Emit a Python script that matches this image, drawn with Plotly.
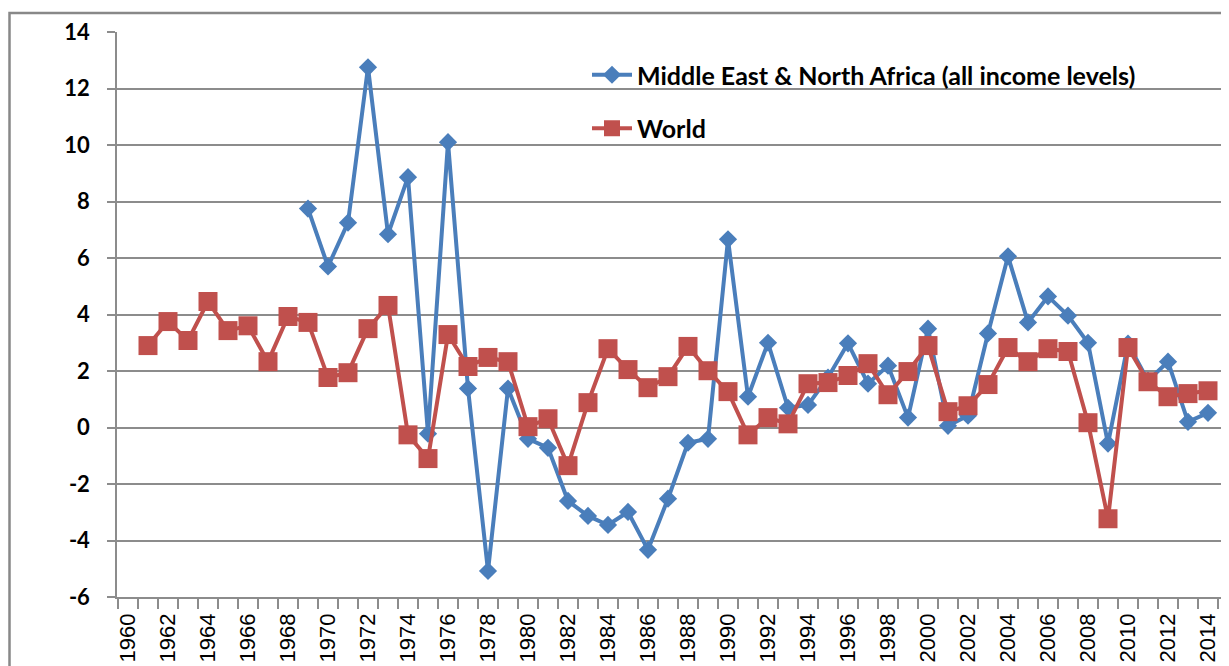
import plotly.graph_objects as go

mena_years = list(range(1969, 2015))
mena_values = [7.75, 5.7, 7.25, 12.75, 6.84, 8.86, -0.22, 10.1, 1.38, -5.08,
               1.38, -0.4, -0.72, -2.6, -3.13, -3.45, -2.99, -4.33, -2.52, -0.54,
               -0.4, 6.66, 1.09, 3.0, 0.7, 0.8, 1.77, 2.98, 1.55, 2.19,
               0.35, 3.5, 0.06, 0.42, 3.33, 6.06, 3.72, 4.64, 3.96, 3.0,
               -0.57, 2.97, 1.66, 2.33, 0.2, 0.52]

world_years = list(range(1961, 2015))
world_values = [2.9, 3.75, 3.08, 4.46, 3.43, 3.6, 2.33, 3.93, 3.72, 1.77,
                1.94, 3.5, 4.32, -0.26, -1.1, 3.29, 2.16, 2.48, 2.33, 0.03,
                0.31, -1.35, 0.88, 2.79, 2.05, 1.41, 1.8, 2.87, 2.01, 1.27,
                -0.26, 0.35, 0.13, 1.55, 1.59, 1.84, 2.26, 1.16, 1.98, 2.9,
                0.56, 0.77, 1.52, 2.83, 2.33, 2.79, 2.69, 0.17, -3.23, 2.83,
                1.62, 1.09, 1.2, 1.3]

x_tick_years = list(range(1960, 2015, 2))
x_tick_labels = [str(y) for y in x_tick_years]
y_ticks = list(range(-6, 15, 2))
y_tick_labels = [str(v) for v in y_ticks]  # plain hyphen minus like the source

BLUE = "#4A7EBB"
RED = "#C0504D"
GRID = "#8C8C8C"

OFF = 8  # page body margin
W, H = 1229 - 2 * OFF, 666 - OFF
ML, MT = 117 - OFF, 32 - OFF
MR = 0
MB = H - (597 - OFF)
PW = W - ML - MR
PH = H - MT - MB

def px(xpage):
    return (xpage - OFF - ML) / PW

def py(ypage):
    return 1 - (ypage - OFF - MT) / PH

fig = go.Figure()
fig.add_trace(go.Scatter(
    x=mena_years, y=mena_values, mode="lines+markers",
    name="Middle East & North Africa (all income levels)",
    line=dict(color=BLUE, width=4),
    marker=dict(symbol="diamond", size=14, color=BLUE),
    legendgroup="a",
))
fig.add_trace(go.Scatter(
    x=world_years, y=world_values, mode="lines+markers",
    name="World",
    line=dict(color=RED, width=4),
    marker=dict(symbol="square", size=19, color=RED),
    legendgroup="b",
))

spacing = 20.0
x0 = 1960 - (128 - 117) / spacing
x1 = x0 + PW / spacing

fig.update_layout(
    width=W, height=H,
    margin=dict(l=ML, r=MR, t=MT, b=MB),
    paper_bgcolor="white", plot_bgcolor="white",
    showlegend=True,
    legend=dict(
        x=px(587), y=py(52),
        xanchor="left", yanchor="top",
        font=dict(family="Lato", size=25, color="black", weight="bold"),
        bgcolor="rgba(0,0,0,0)",
        traceorder="grouped", tracegroupgap=18,
        itemwidth=40,
    ),
    xaxis=dict(
        range=[x0, x1],
        tickmode="array", tickvals=x_tick_years, ticktext=x_tick_labels,
        tickangle=-90, ticks="", showgrid=False,
        tickfont=dict(family="Liberation Sans", size=22, color="black"),
        showline=True, linecolor=GRID, linewidth=1.5,
        automargin=False,
        ticklabelstandoff=6,
        ticklabeloverflow="allow",
        minor=dict(tick0=1959.5, dtick=1, ticks="outside", ticklen=10,
                   tickcolor=GRID, tickwidth=1.5, showgrid=False),
        zeroline=False,
    ),
    yaxis=dict(
        range=[-6, 14],
        tickmode="array", tickvals=y_ticks, ticktext=y_tick_labels,
        ticks="outside", ticklen=8, tickcolor=GRID, tickwidth=1.5,
        showgrid=True, gridcolor=GRID, gridwidth=1.5,
        showline=True, linecolor=GRID, linewidth=1.5,
        zeroline=False,
        tickfont=dict(family="Lato", size=22, color="black", weight="bold"),
        automargin=False,
        ticklabelstandoff=13,
    ),
    shapes=[dict(
        type="rect", xref="paper", yref="paper",
        x0=px(9.5), x1=1.2, y0=-0.5, y1=py(13),
        line=dict(color="#888888", width=2.5), fillcolor="rgba(0,0,0,0)",
        layer="below",
    )],
)

fig.write_html("out.html")
